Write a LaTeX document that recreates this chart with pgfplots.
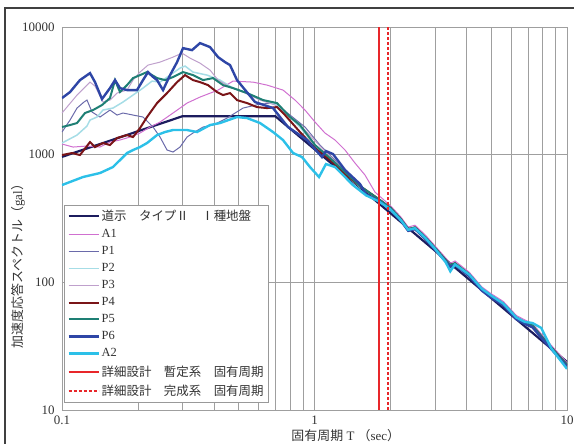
\documentclass[border=0pt]{standalone}
\usepackage{pgfplots}
\pgfplotsset{compat=1.18}
\usepackage{fontspec}
\setmainfont{Liberation Serif}
\newfontfamily\jp{Noto Sans CJK JP}
\definecolor{cDesign}{HTML}{1C1C5E}
\definecolor{cA1}{HTML}{D070D0}
\definecolor{cP1}{HTML}{6A6AAA}
\definecolor{cP2}{HTML}{A6DDE6}
\definecolor{cP3}{HTML}{BFA0CC}
\definecolor{cP4}{HTML}{7A1518}
\definecolor{cP5}{HTML}{1E7F74}
\definecolor{cP6}{HTML}{2E46A6}
\definecolor{cA2}{HTML}{2CC0E8}
\definecolor{cRed}{HTML}{E8262A}
\begin{document}
\begin{tikzpicture}[x=1bp,y=1bp]
\useasboundingbox (0,0) rectangle (574,444);
\draw[line width=1.5bp,color=black!75] (5,0) -- (5,436) -- (574,436);
\begin{axis}[
  at={(62bp,34bp)}, anchor=south west,
  scale only axis, width=505bp, height=383bp,
  xmode=log, ymode=log,
  xmin=0.1, xmax=10, ymin=10, ymax=10000,
  xtick={0.1,1,10}, xticklabels={0.1,1,10},
  ytick={10,100,1000,10000}, yticklabels={10,100,1000,10000},
  minor xtick={0.2,0.3,0.4,0.5,0.6,0.7,0.8,0.9,2,3,4,5,6,7,8,9},
  yminorticks=false,
  xmajorgrids, ymajorgrids, xminorgrids,
  major grid style={draw=gray!75, line width=0.7bp},
  minor grid style={draw=gray!75, line width=0.7bp},
  major tick length=0pt, minor tick length=0pt,
  axis line style={draw=gray!75, line width=0.8bp},
  ticklabel style={font=\fontsize{13}{14}\selectfont, color=black!80},
  xticklabel style={yshift=-2bp},
  yticklabel style={xshift=-4bp},
  xlabel={{\jp 固有周期}~T~{\jp （}sec{\jp ）}},
  xlabel style={at={(axis description cs:0.562,-0.068)}, anchor=center, font=\fontsize{13}{15}\selectfont, color=black!80},
  ylabel={{\jp 加速度応答スペクトル（}gal{\jp ）}},
  ylabel style={at={(axis description cs:-0.087,0.384)}, anchor=center, font=\fontsize{13}{15}\selectfont, color=black!80},
  legend style={at={(rel axis cs:0.004,0.535)}, anchor=north west, draw=gray!80, fill=white, font=\fontsize{12.5}{13.5}\selectfont, inner sep=3bp, row sep=3.3bp, line width=0.6bp, text=black!80},
  legend cell align=left,
  legend image code/.code={\draw[line cap=butt,#1] (0bp,0bp) -- (30bp,0bp);},
]
\addplot[cDesign, line width=2.2bp] coordinates {(0.1,961) (0.3,2000) (0.7,2000) (10,23.8)};
\addlegendentry{\makebox[162bp][l]{\jp 道示　タイプⅡ　Ⅰ種地盤}}
\addplot[cA1, line width=1bp] coordinates {(0.1,1211)(0.1106,1147)(0.1256,1168)(0.1414,1147)(0.1549,1256)(0.1697,1302)(0.1859,1374)(0.2037,1477)(0.2232,1646)(0.2445,1800)(0.2753,2119)(0.3128,2535)(0.3521,2826)(0.4150,3205)(0.4757,3768)(0.5709,3700)(0.6486,3507)(0.7505,3205)(0.8373,2677)(0.9171,2235)(1.005,1800)(1.100,1477)(1.206,1302)(1.321,1087)(1.447,859)(1.585,692)(1.736,509)(2.0,398)(2.2,324)(2.35,271)(2.5,280)(2.75,234)(3.0,193)(3.3,156)(3.45,141)(3.6,147)(4.1,120)(4.6,92)(5.0,81.6)(5.6,70.7)(6.3,55)(6.8,50.8)(7.3,47.6)(7.9,39.5)(8.7,31.8)(10,23.5)};
\addlegendentry{A1}
\addplot[cP1, line width=1bp] coordinates {(0.1,1504)(0.1076,1866)(0.1147,2317)(0.1222,2583)(0.1256,2677)(0.1315,2157)(0.1414,1971)(0.1549,2235)(0.1652,2043)(0.1744,2119)(0.1911,2043)(0.2093,1971)(0.2294,1646)(0.2445,1374)(0.2606,1087)(0.2753,1049)(0.2934,1147)(0.3128,1374)(0.3303,1477)(0.3619,1646)(0.3965,1706)(0.4504,1935)(0.5212,2317)(0.6085,2490)(0.6977,2535)(0.8000,2043)(0.9171,1646)(1.051,1189)(1.206,907)(1.382,656)(1.585,528)(1.8,447)(2.0,383)(2.2,312)(2.35,261)(2.5,269)(2.75,225)(3.0,186)(3.3,150)(3.45,136)(3.6,141)(4.1,115.5)(4.6,88.5)(5.0,78.5)(5.6,68)(6.3,53)(6.8,48.8)(7.3,45.8)(7.9,38)(8.7,30.6)(10,22.6)};
\addlegendentry{P1}
\addplot[cP2, line width=1.5bp] coordinates {(0.1,1233)(0.1147,1424)(0.1256,1675)(0.1291,1866)(0.1376,1971)(0.1453,2235)(0.1592,2317)(0.1744,2583)(0.1911,2929)(0.2093,3321)(0.2273,3768)(0.2445,3700)(0.2679,4200)(0.2934,4765)(0.3071,4940)(0.3303,4434)(0.3754,4200)(0.4226,3837)(0.4757,3321)(0.5405,3037)(0.6254,2677)(0.7105,2446)(0.8000,1971)(0.8763,1646)(1.005,1168)(1.152,923)(1.321,705)(1.514,558)(1.8,447)(2.0,383)(2.2,312)(2.35,261)(2.5,269)(2.75,225)(3.0,186)(3.3,150)(3.45,136)(3.6,141)(4.1,115.5)(4.6,88.5)(5.0,78.5)(5.6,68)(6.3,53)(6.8,48.8)(7.3,45.8)(7.9,38)(8.7,30.6)(10,22.6)};
\addlegendentry{P2}
\addplot[cP3, line width=1bp] coordinates {(0.1,2119)(0.1147,2929)(0.1291,3700)(0.1351,3444)(0.1453,2583)(0.1549,2677)(0.1652,3037)(0.1810,3205)(0.1911,3837)(0.2037,4434)(0.2191,5030)(0.2445,5307)(0.2753,5809)(0.2988,6241)(0.3214,5703)(0.3521,5209)(0.3858,4595)(0.4150,3837)(0.4629,3384)(0.5307,3037)(0.6085,2677)(0.6977,2446)(0.8000,1971)(0.9171,1559)(1.051,1168)(1.206,891)(1.382,680)(1.585,528)(1.8,447)(2.0,383)(2.2,312)(2.35,261)(2.5,269)(2.75,225)(3.0,186)(3.3,150)(3.45,136)(3.6,141)(4.1,115.5)(4.6,88.5)(5.0,78.5)(5.6,68)(6.3,53)(6.8,48.8)(7.3,45.8)(7.9,38)(8.7,30.6)(10,22.6)};
\addlegendentry{P3}
\addplot[cP4, line width=2bp] coordinates {(0.1,993)(0.1096,1030)(0.1178,993)(0.1291,1255)(0.1351,1146)(0.1453,1233)(0.1549,1189)(0.165,1349)(0.1810,1424)(0.1911,1374)(0.2037,1615)(0.2171,1969)(0.2379,2535)(0.2606,3035)(0.2856,3700)(0.3071,4200)(0.3303,3837)(0.3521,3700)(0.3786,3507)(0.411,3092)(0.4343,2930)(0.4629,3035)(0.4934,2674)(0.5405,2535)(0.592,2358)(0.649,2316)(0.7105,2358)(0.7643,2043)(0.8763,1503)(1.005,1126)(1.152,907)(1.321,705)(1.514,568)(1.8,447)(2.0,383)(2.2,312)(2.35,261)(2.5,269)(2.75,225)(3.0,186)(3.3,150)(3.45,136)(3.6,141)(4.1,115.5)(4.6,88.5)(5.0,78.5)(5.6,68)(6.3,53)(6.8,48.8)(7.3,45.8)(7.9,38)(8.7,30.6)(10,22.6)};
\addlegendentry{P4}
\addplot[cP5, line width=2bp] coordinates {(0.1,1646)(0.1076,1706)(0.1147,1769)(0.1233,2119)(0.1327,2235)(0.1440,2446)(0.1549,2774)(0.1622,3837)(0.1697,3093)(0.1810,3507)(0.1911,3979)(0.2037,4200)(0.2171,4434)(0.2379,3979)(0.2559,3837)(0.2753,4053)(0.3015,4434)(0.3303,4200)(0.3619,3837)(0.3965,3979)(0.4343,3507)(0.4757,3321)(0.5405,3037)(0.6254,2677)(0.7105,2535)(0.8000,1971)(0.8763,1706)(1.005,1189)(1.152,940)(1.321,731)(1.514,568)(1.8,447)(2.0,383)(2.2,312)(2.35,261)(2.5,269)(2.75,225)(3.0,186)(3.3,150)(3.45,136)(3.6,141)(4.1,115.5)(4.6,88.5)(5.0,78.5)(5.6,68)(6.3,53)(6.8,48.8)(7.3,45.8)(7.9,38)(8.7,30.6)(10,22.6)};
\addlegendentry{P5}
\addplot[cP6, line width=2.4bp] coordinates {(0.1,2774)(0.1076,3093)(0.1178,3837)(0.1291,4352)(0.1351,3703)(0.1440,2726)(0.1549,3321)(0.1622,3837)(0.1697,3321)(0.1810,3205)(0.1982,3205)(0.2093,3837)(0.2191,4434)(0.2273,4125)(0.2379,3837)(0.2513,3205)(0.2679,4200)(0.2856,5307)(0.3015,6828)(0.3273,6590)(0.3521,7477)(0.3858,6958)(0.4150,5809)(0.4423,5307)(0.4629,5030)(0.4934,3837)(0.5814,2583)(0.6851,2317)(0.7303,1971)(0.7855,1646)(0.9340,1302)(1.0704,958)(1.110,1067)(1.184,1011)(1.321,758)(1.514,589)(1.6,489)(1.8,434)(2.0,372)(2.2,303)(2.35,253)(2.5,261)(2.75,218)(3.0,180)(3.3,146)(3.45,132)(3.6,137)(4.1,112)(4.6,86)(5.0,76)(5.6,66)(6.3,51.4)(6.8,47.3)(7.3,44.4)(7.9,36.9)(8.7,29.7)(10,21.9)};
\addlegendentry{P6}
\addplot[cA2, line width=2.4bp] coordinates {(0.1,578)(0.1076,611)(0.1211,668)(0.1414,718)(0.1592,800)(0.1697,907)(0.1810,1030)(0.1911,1087)(0.2037,1147)(0.2171,1233)(0.2379,1424)(0.2559,1504)(0.2753,1559)(0.3128,1559)(0.3426,1504)(0.3858,1706)(0.4226,1769)(0.4934,1971)(0.5405,1935)(0.6085,1769)(0.6851,1504)(0.7505,1302)(0.8222,1030)(0.8924,958)(0.9598,800)(1.042,668)(1.110,844)(1.206,800)(1.420,578)(1.6,480)(1.8,430)(2.0,372)(2.2,306)(2.35,258)(2.5,265)(2.75,222)(3.0,183)(3.3,145)(3.45,122)(3.6,138)(4.1,115)(4.6,89)(5.0,79)(5.6,68)(6.3,53)(6.8,49)(7.3,48)(7.9,44)(8.7,30)(10,21)};
\addlegendentry{A2}
\addplot[color=cRed, line width=1.6bp, forget plot] coordinates {(1.80,10) (1.80,10000)};
\addlegendimage{color=cRed, line width=2bp}
\addlegendentry{{\jp 詳細設計　暫定系　固有周期}}
\addplot[color=cRed, line width=1.6bp, dash pattern=on 3bp off 2bp] coordinates {(1.955,10) (1.955,10000)};
\addlegendentry{{\jp 詳細設計　完成系　固有周期}}
\end{axis}
\end{tikzpicture}
\end{document}
